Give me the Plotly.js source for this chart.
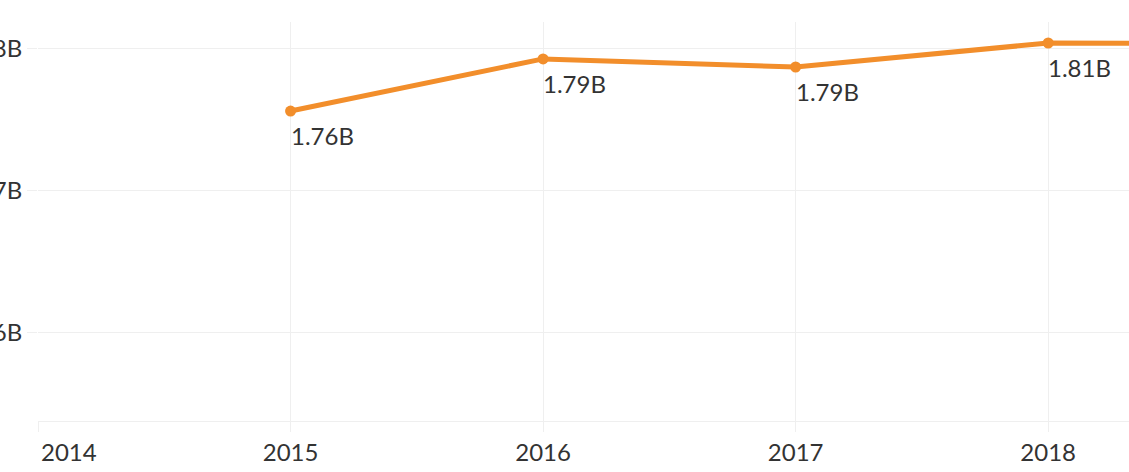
<!DOCTYPE html>
<html>
<head>
<meta charset="utf-8">
<script src="https://cdn.plot.ly/plotly-3.0.1.min.js"></script>
<style>html,body{margin:0;padding:0;background:#fff;}#chart{width:1129px;height:472px;}</style>
</head>
<body>
<div id="chart"></div>
<script>
// Data
const years = [2015, 2016, 2017, 2018, 2019];
const values = [1.7563, 1.7930, 1.7873, 1.8042, 1.8035];
const valueLabels = ['1.76B', '1.79B', '1.79B', '1.81B', ''];
const xTickVals = [2014, 2015, 2016, 2017, 2018];
const xTickText = ['', '2015', '2016', '2017', '2018'];
const firstTickLabel = '2014';
const yTickVals = [1.6, 1.7, 1.8];
const yTickText = ['1.6B', '1.7B', '1.8B'];

const FONT = 'Lato, "Open Sans", sans-serif';
const TXT = '#333333';
const GRID = '#efefef';
const ORANGE = '#F28E2B';

const trace = {
  x: years, y: values, type: 'scatter', mode: 'lines+markers',
  line: {color: ORANGE, width: 5},
  marker: {color: ORANGE, size: 11},
  hoverinfo: 'skip', cliponaxis: true
};

const annotations = years.map((yr, i) => ({
  x: yr, y: values[i], xref: 'x', yref: 'y', text: valueLabels[i],
  showarrow: false, xanchor: 'left', yanchor: 'top', yshift: -8, xshift: -2,
  font: {family: FONT, size: 24, color: TXT}
})).filter(a => a.text);

annotations.push({
  x: xTickVals[0], y: 0, xref: 'x', yref: 'paper', text: firstTickLabel,
  showarrow: false, xanchor: 'left', yanchor: 'top', yshift: -14, xshift: 1,
  font: {family: FONT, size: 24, color: TXT}
});

const layout = {
  width: 1129, height: 472,
  margin: {l: 38, r: 0, t: 22, b: 51},
  paper_bgcolor: '#fff', plot_bgcolor: '#fff',
  showlegend: false,
  font: {family: FONT, size: 24, color: TXT},
  xaxis: {
    range: [2014, 2018.32], tickvals: xTickVals, ticktext: xTickText,
    showgrid: true, gridcolor: GRID, gridwidth: 1,
    ticks: 'outside', ticklen: 10, tickcolor: GRID, tickwidth: 1,
    showline: true, linecolor: GRID, linewidth: 1,
    zeroline: false, tickfont: {family: FONT, size: 24, color: TXT}
  },
  yaxis: {
    range: [1.538, 1.819], tickvals: yTickVals, ticktext: yTickText,
    showgrid: true, gridcolor: GRID, gridwidth: 1,
    ticks: 'outside', ticklen: 10, tickcolor: GRID, tickwidth: 1,
    showline: false, zeroline: false,
    tickfont: {family: FONT, size: 24, color: TXT}
  },
  annotations: annotations
};

Plotly.newPlot('chart', [trace], layout, {displayModeBar: false, staticPlot: true});
</script>
</body>
</html>
